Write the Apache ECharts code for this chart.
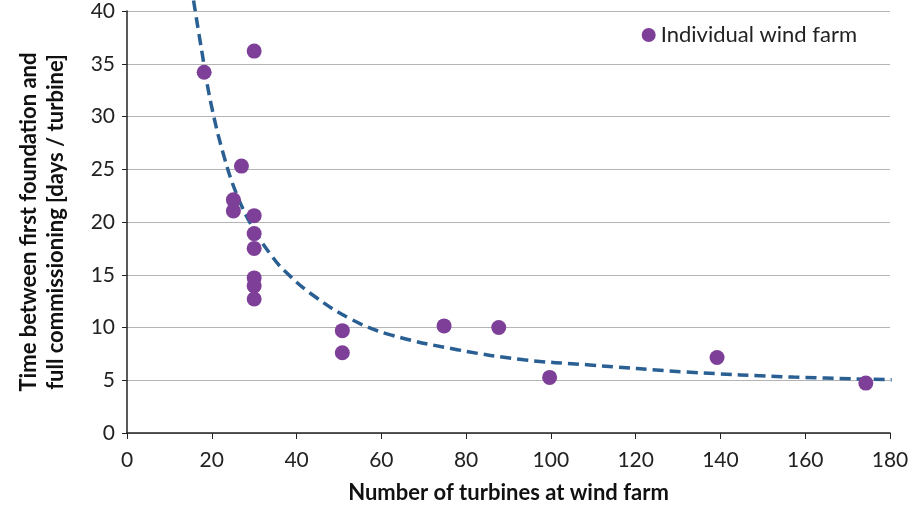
<!DOCTYPE html>
<html>
<head>
<meta charset="utf-8">
<script src="https://cdn.jsdelivr.net/npm/echarts@6/dist/echarts.min.js"></script>
<style>
  html, body { margin: 0; padding: 0; background: #fff; }
  #chart { width: 908px; height: 509px; }
</style>
</head>
<body>
<div id="chart"></div>
<script>
  // individual wind farms: number of turbines vs days per turbine
  var turbines = [18.2, 30, 27, 25.1, 25.1, 30, 30, 30, 30, 30, 30, 50.8, 50.8, 74.8, 87.7, 99.7, 139.2, 174.3]
  var days = [34.2, 36.2, 25.3, 22.1, 21.05, 20.6, 18.9, 17.5, 14.7, 13.95, 12.7, 9.7, 7.6, 10.15, 10.0, 5.27, 7.16, 4.73]

  // trend curve
  var trendX = [15.7, 17.6, 19.8, 22.9, 26.1, 30, 34.3, 37.1, 43.4, 52.8, 62.2, 77.9, 93.6, 108.5, 132.1, 157.2, 180.4]
  var trendY = [41.0, 36.3, 31.25, 26.2, 22.4, 19.25, 16.7, 15.4, 13.2, 10.8, 9.3, 7.9, 6.94, 6.47, 5.78, 5.30, 5.05]

  var xTicks = [0, 20, 40, 60, 80, 100, 120, 140, 160, 180]
  var yTicks = [0, 5, 10, 15, 20, 25, 30, 35, 40]

  var farmPoints = turbines.map(function (t, i) { return [t, days[i]] })
  var trendPoints = trendX.map(function (t, i) { return [t, trendY[i]] })

  var font = 'Lato, "Open Sans", sans-serif'
  var chart = echarts.init(document.getElementById('chart'))
  var option = {
    animation: false,
    textStyle: { fontFamily: font },
    grid: { left: 127, right: 18, top: 11, bottom: 76, containLabel: false, outerBoundsMode: 'none' },
    legend: {
      right: 46,
      top: 19,
      icon: 'circle',
      itemWidth: 14,
      itemHeight: 14,
      itemGap: 6,
      data: ['Individual wind farm'],
      textStyle: { fontSize: 22, color: '#222', fontFamily: font },
    },
    xAxis: {
      type: 'value',
      min: xTicks[0],
      max: xTicks[xTicks.length - 1],
      interval: 20,
      name: 'Number of turbines at wind farm',
      nameLocation: 'middle',
      nameGap: 49,
      nameTextStyle: { fontSize: 22, fontWeight: 'bold', color: '#111' },
      axisLine: { lineStyle: { color: '#222', width: 1.5 } },
      axisTick: { show: true, inside: false, length: 6, lineStyle: { color: '#222' } },
      axisLabel: { fontSize: 21, color: '#222', margin: 17 },
      splitLine: { show: false },
    },
    yAxis: {
      type: 'value',
      min: yTicks[0],
      max: yTicks[yTicks.length - 1],
      interval: 5,
      name: 'Time between first foundation and\nfull commissioning [days / turbine]',
      nameLocation: 'middle',
      nameGap: 58,
      nameTextStyle: { fontSize: 22, fontWeight: 'bold', color: '#111', lineHeight: 27 },
      axisLine: { show: true, lineStyle: { color: '#222', width: 1.5 } },
      axisTick: { show: true, length: 5, lineStyle: { color: '#222' } },
      axisLabel: { fontSize: 21, color: '#222', margin: 12 },
      splitLine: { show: true, lineStyle: { color: '#b4b4b4', width: 1.2 } },
    },
    series: [
      {
        name: 'Trend',
        type: 'line',
        data: trendPoints,
        smooth: 0.4,
        symbol: 'none',
        clip: false,
        lineStyle: { color: '#2a5f93', width: 3.5, type: [11, 6] },
        z: 2,
      },
      {
        name: 'Individual wind farm',
        type: 'scatter',
        data: farmPoints,
        symbolSize: 15,
        itemStyle: { color: '#7e3f98', opacity: 1 },
        z: 3,
      },
    ],
  }
  chart.setOption(option)
</script>
</body>
</html>
